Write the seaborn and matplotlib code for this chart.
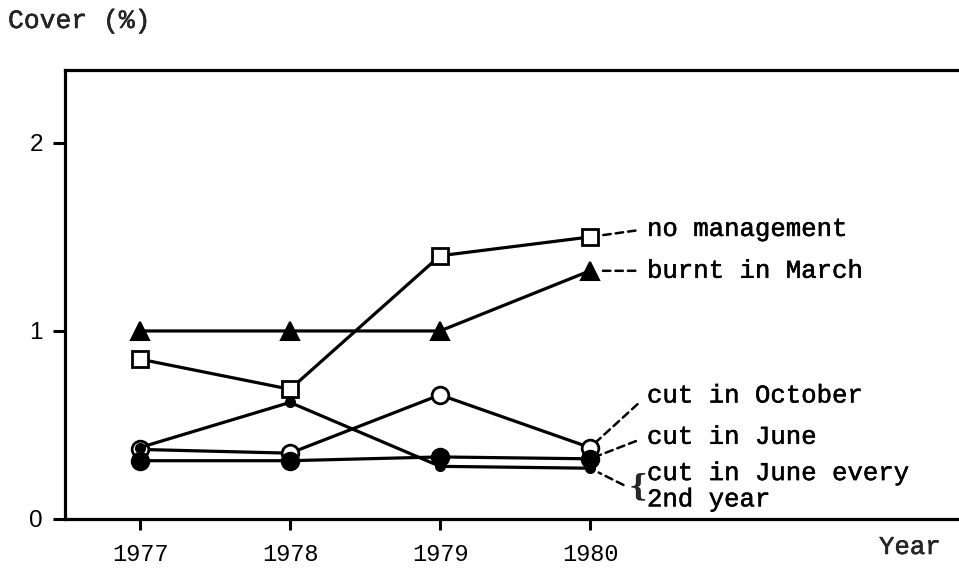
import matplotlib
matplotlib.use("Agg")
import matplotlib.pyplot as plt
import matplotlib.patheffects as pe
import seaborn as sns
import pandas as pd

# Cover (%) per management treatment, 1977-1980
years = [1977, 1978, 1979, 1980]
no_management = [0.85, 0.69, 1.40, 1.50]
burnt_in_march = [1.00, 1.00, 1.00, 1.32]
cut_in_october = [0.37, 0.35, 0.66, 0.38]
cut_in_june = [0.31, 0.31, 0.33, 0.32]
cut_in_june_2nd_year = [0.38, 0.62, 0.28, 0.27]

series_names = [
    "no management",
    "burnt in March",
    "cut in October",
    "cut in June",
    "cut in June every\n2nd year",
]
series_values = [no_management, burnt_in_march, cut_in_october,
                 cut_in_june, cut_in_june_2nd_year]

y_ticks = [0, 1, 2]
x_label = "Year"
y_label = "Cover (%)"

df = pd.DataFrame(
    [(name, yr, v) for name, vals in zip(series_names, series_values)
     for yr, v in zip(years, vals)],
    columns=["treatment", "year", "cover"],
)

sns.set_theme(style="white")
plt.rcParams["font.family"] = ["Liberation Mono", "DejaVu Sans Mono"]

# slightly heavier strokes for the typewriter-style lettering
heavy = [pe.withStroke(linewidth=0.35, foreground="black")]

fig = plt.figure(figsize=(9.59, 5.69), dpi=100)
ax = fig.add_axes([0.0678, 0.0879, 0.9322, 0.7891])

styles = {
    "no management": dict(marker="s", ms=11.5, mfc="white", mew=2.0),
    "burnt in March": dict(marker="^", ms=12.5, mfc="black", mew=1.5),
    "cut in October": dict(marker="o", ms=12, mfc="white", mew=2.0),
    "cut in June": dict(marker="o", ms=12.5, mfc="black", mew=1.5),
    "cut in June every\n2nd year": dict(marker="o", ms=7, mfc="black", mew=1.0),
}

for name in series_names:
    sub = df[df["treatment"] == name]
    st = styles[name]
    sns.lineplot(data=sub, x="year", y="cover", ax=ax, color="black",
                 linewidth=2.3, marker=st["marker"], markersize=st["ms"],
                 markerfacecolor=st["mfc"], markeredgecolor="black",
                 markeredgewidth=st["mew"], legend=False, zorder=3,
                 estimator=None)

# Dashed leaders from each 1980 point to its treatment name
dash = dict(arrowstyle="-", color="black", lw=1.8, linestyle=(0, (3, 2)),
            shrinkA=6, shrinkB=7)
label_font = dict(fontsize=18.5, family=["Liberation Mono", "DejaVu Sans Mono"],
                  color="black", path_effects=heavy)
offsets = {
    "no management": (57, 8),
    "burnt in March": (57, 0),
    "cut in October": (57, 52),
    "cut in June": (57, 22),
}
for name in series_names[:4]:
    vals = series_values[series_names.index(name)]
    ax.annotate(name, xy=(years[-1], vals[-1]), xytext=offsets[name],
                textcoords="offset pixels", ha="left", va="center",
                arrowprops=dict(dash, relpos=(0, 0.5)), **label_font)

# Brace-grouped label for the biennial cut
ax.annotate("{", xy=(years[-1], cut_in_june_2nd_year[-1]), xytext=(38, -19),
            textcoords="offset pixels", ha="left", va="center",
            arrowprops=dict(dash, relpos=(0, 0.5), shrinkA=1),
            fontsize=21, family=["DejaVu Serif"], fontweight="bold")
ax.annotate(series_names[4], xy=(years[-1], cut_in_june_2nd_year[-1]),
            xytext=(57, -18), textcoords="offset pixels", ha="left",
            va="center", linespacing=1.12, **label_font)

ax.set_xlim(1976.5, 1982.46)
ax.set_ylim(0, 2.388)
ax.set_xticks(years)
ax.set_xticklabels([str(y) for y in years], fontsize=17,
                   family=["Liberation Mono"])
ax.set_yticks(y_ticks)
ax.set_yticklabels([str(t) for t in y_ticks], fontsize=17.5,
                   family=["Liberation Sans"])
ax.set_xlabel("")
ax.set_ylabel("")

ax.tick_params(axis="x", direction="out", length=8, width=2.2, pad=9,
               bottom=True, colors="black")
ax.tick_params(axis="y", direction="out", length=9, width=2.2, pad=7,
               left=True, colors="black")

for side in ("left", "top", "bottom"):
    ax.spines[side].set_visible(True)
    ax.spines[side].set_linewidth(2.3)
    ax.spines[side].set_color("black")
ax.spines["right"].set_visible(False)

fig.text(8 / 959, 1 - 21 / 569, y_label, ha="left", va="center",
         fontsize=19, family=["Liberation Mono"], path_effects=heavy)
fig.text(941 / 959, 1 - 547 / 569, x_label, ha="right", va="center",
         fontsize=18.5, family=["Liberation Mono"], path_effects=heavy)

fig.savefig("out.png", dpi=100, facecolor="white")
